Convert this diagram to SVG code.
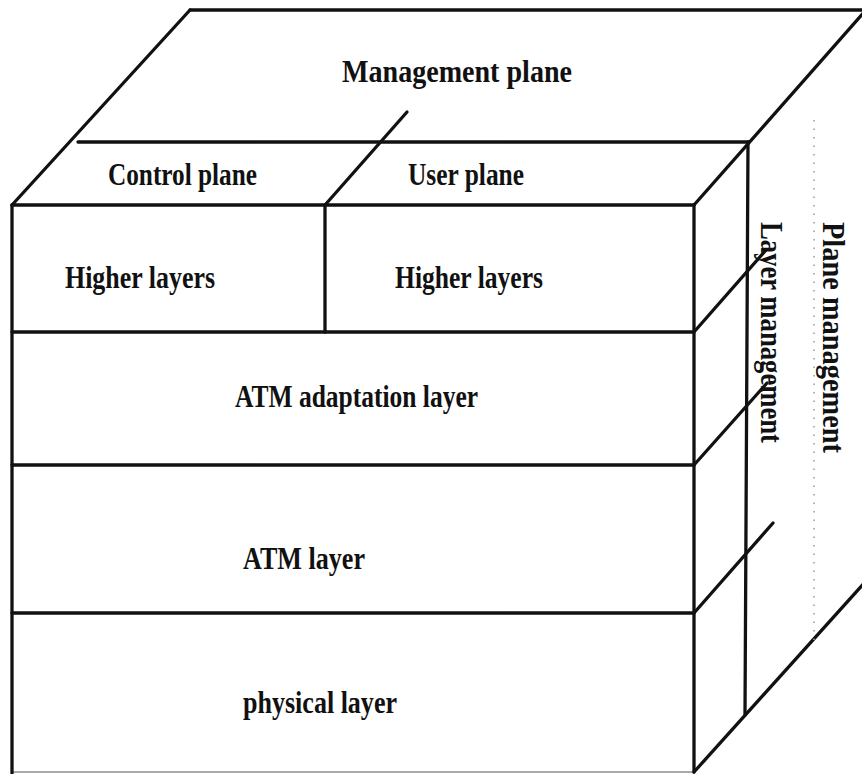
<svg xmlns="http://www.w3.org/2000/svg" width="862" height="774" viewBox="0 0 862 774">
<style>
.ln{stroke:#111;stroke-width:3.3;fill:none;stroke-linecap:round}
.t{font-family:"Liberation Serif","Times New Roman",serif;font-weight:bold;font-size:31px;fill:#111}
.dot{stroke:#999;stroke-width:1.5;stroke-dasharray:1.5 7;fill:none}
</style>
<rect width="862" height="774" fill="#fff"/>
<g id="edges">
<line class="ln" x1="190" y1="10" x2="866" y2="10"/>
<line class="ln" x1="190" y1="10" x2="12" y2="205"/>
<line class="ln" x1="866" y1="10" x2="694" y2="205"/>
<line class="ln" x1="78" y1="142" x2="749" y2="142"/>
<line class="ln" x1="407" y1="112" x2="325" y2="205"/>
<line class="ln" x1="12" y1="205" x2="694" y2="205"/>
<line class="ln" x1="325" y1="205" x2="325" y2="332"/>
<line class="ln" x1="12" y1="332" x2="694" y2="332"/>
<line class="ln" x1="12" y1="465" x2="694" y2="465"/>
<line class="ln" x1="12" y1="613" x2="694" y2="613"/>
<line x1="12" y1="772" x2="694" y2="772" stroke="#aaa" stroke-width="2"/>
<line class="ln" x1="12" y1="205" x2="12" y2="774"/>
<line class="ln" x1="694" y1="205" x2="694" y2="772"/>
<line class="ln" x1="748" y1="142" x2="745" y2="715"/>
<line class="ln" x1="694" y1="332" x2="766" y2="250"/>
<line class="ln" x1="694" y1="465" x2="767" y2="383"/>
<line class="ln" x1="694" y1="613" x2="773" y2="523"/>
<line class="ln" x1="694" y1="772" x2="866" y2="581"/>
<line class="dot" x1="814" y1="120" x2="814" y2="640"/>
</g>
<g id="management-plane"><text class="t" x="342" y="82" textLength="230" lengthAdjust="spacingAndGlyphs">Management plane</text></g>
<g id="control-plane"><text class="t" x="108" y="185" textLength="149" lengthAdjust="spacingAndGlyphs">Control plane</text></g>
<g id="user-plane"><text class="t" x="408" y="185" textLength="116" lengthAdjust="spacingAndGlyphs">User plane</text></g>
<g id="higher-layers-control"><text class="t" x="65" y="288" textLength="150" lengthAdjust="spacingAndGlyphs">Higher layers</text></g>
<g id="higher-layers-user"><text class="t" x="395" y="288" textLength="148" lengthAdjust="spacingAndGlyphs">Higher layers</text></g>
<g id="aal"><text class="t" x="235" y="407" textLength="243" lengthAdjust="spacingAndGlyphs">ATM adaptation layer</text></g>
<g id="atm-layer"><text class="t" x="243" y="569" textLength="122" lengthAdjust="spacingAndGlyphs">ATM layer</text></g>
<g id="physical-layer"><text class="t" x="243" y="713" textLength="154" lengthAdjust="spacingAndGlyphs">physical layer</text></g>
<g id="layer-management"><text class="t" transform="translate(761,222) rotate(90)" textLength="221" lengthAdjust="spacingAndGlyphs">Layer management</text></g>
<g id="plane-management"><text class="t" transform="translate(823,222) rotate(90)" textLength="231" lengthAdjust="spacingAndGlyphs">Plane management</text></g>
</svg>
